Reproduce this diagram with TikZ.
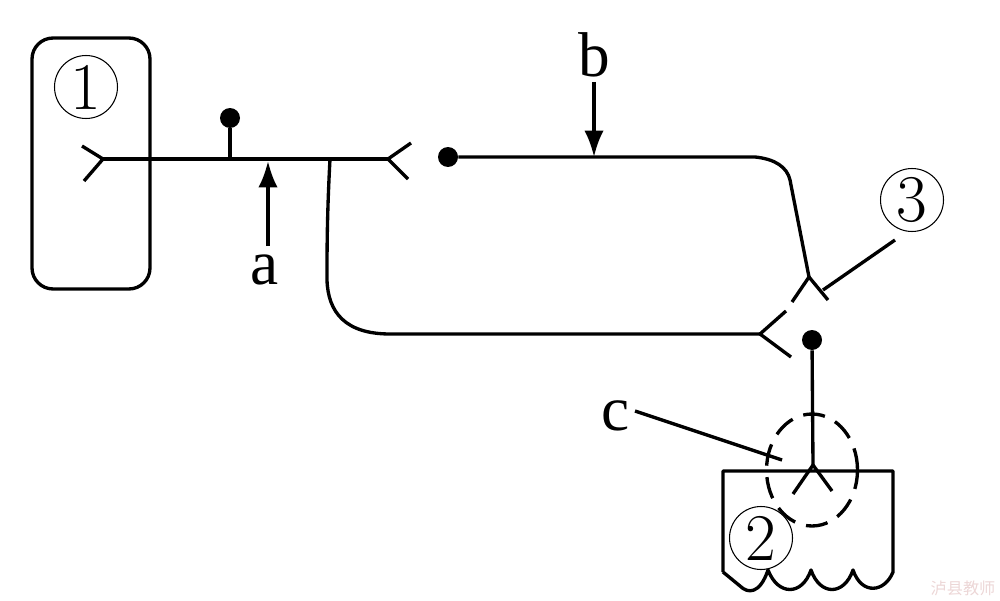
\documentclass[tikz,border=0pt]{standalone}
\usepackage{fontspec}
\newfontfamily\cjkfont{Noto Sans CJK SC}
\newfontfamily\letterfont{Liberation Serif}
\usetikzlibrary{arrows.meta, shapes, positioning}
\definecolor{markpink}{RGB}{236,214,214}
\tikzset{
    nerve/.style={line width=1.9pt},
    pointer/.style={-{Latex[length=15pt,width=11pt]}, nerve},
    knob/.style={circle, fill=black, inner sep=0pt, minimum size=0.4cm},
    numbered/.style={circle, draw, fill=white, line width=0.6pt, inner sep=0pt, minimum size=1.26cm, font=\fontsize{38}{40}\selectfont},
    letter/.style={inner sep=0pt, font=\letterfont\fontsize{36}{40}\selectfont},
}
\begin{document}
\begin{tikzpicture}[x=0.02cm, y=-0.02cm]
        \useasboundingbox (0,0) rectangle (1000,601);

        % receptor box and muscle cup
        \node[draw, nerve, rounded corners=0.42cm, minimum width=2.36cm, minimum height=5.02cm] (box) at (91,163.5) {};
        \coordinate (cupTL) at (723,471);
        \coordinate (cupTR) at (893,471);
        \coordinate (cupBL) at (723,572);
        \coordinate (cupBR) at (893,572);
        \draw[nerve, line join=round] (cupBL) -- (cupTL) -- (cupTR) -- (cupBR)
            .. controls (885,592) and (862,596) .. (853,570)
            .. controls (844,596) and (820,596) .. (811,570)
            .. controls (802,596) and (778,596) .. (768,570)
            .. controls (760,594) and (748,594) .. (740,586) -- (cupBL);

        % dots
        \node[knob] (dotA) at (230,118) {};
        \node[knob] (dotB) at (448,157) {};
        \node[knob] (dotC) at (812,340) {};

        % first nerve
        \coordinate (forkL) at (103,159);
        \coordinate (forkR) at (388,159);
        \coordinate (stemA) at (230,159);
        \coordinate (branch) at (330,159);
        \coordinate (forkB) at (760,334);
        \draw[nerve] (forkL) -- (forkR);
        \draw[nerve] (82,146) -- (forkL) -- (84,181);
        \draw[nerve] (411,143) -- (forkR) -- (408,179);
        \draw[nerve] (dotA) -- (stemA);
        \draw[nerve] (branch) .. controls (327,215) and (327,250) .. (327,280)
            .. controls (328,312) and (345,334) .. (390,334) -- (forkB);
        \draw[nerve] (786,311) -- (forkB) -- (791,357);

        % second nerve
        \coordinate (forkC) at (809,277);
        \draw[nerve] (dotB) -- (755,157) .. controls (775,159) and (787,167) .. (790,180) -- (forkC);
        \draw[nerve] (792,302) -- (forkC) -- (828,300);

        % third nerve
        \coordinate (forkD) at (813,465);
        \draw[nerve] (dotC) -- (forkD);
        \draw[nerve] (793,494) -- (forkD) -- (832,491);

        % dashed circle
        \node[ellipse, draw, nerve, dash pattern=on 12.5pt off 6.5pt, inner sep=0pt, minimum width=1.82cm, minimum height=2.24cm] (ring) at (812,470) {};

        % numbers and letters
        \node[numbered] (one) at (86,87) {1};
        \node[numbered] (two) at (761,538) {2};
        \node[numbered] (three) at (912,200) {3};
        \node[letter] (a) at (265,270) {a};
        \node[letter] (b) at (594,55) {b};
        \node[letter] (c) at (616,416) {c};
        \node[text=markpink, inner sep=0pt, font=\cjkfont\fontsize{9.2}{10}\selectfont] (mark) at (963,588) {泸县教师};

        % pointers
        \coordinate (tipA) at (268,161);
        \coordinate (tipB) at (594,157);
        \coordinate (tipC) at (782,460);
        \coordinate (tipD) at (823,290);
        \coordinate (tailC) at (635,411);
        \coordinate (tailD) at (895,240);
        \draw[pointer] (268,246) -- (tipA);
        \draw[pointer] (594,82) -- (tipB);
        \draw[nerve] (tailC) -- (tipC);
        \draw[nerve] (tailD) -- (tipD);
    \end{tikzpicture}
\end{document}
